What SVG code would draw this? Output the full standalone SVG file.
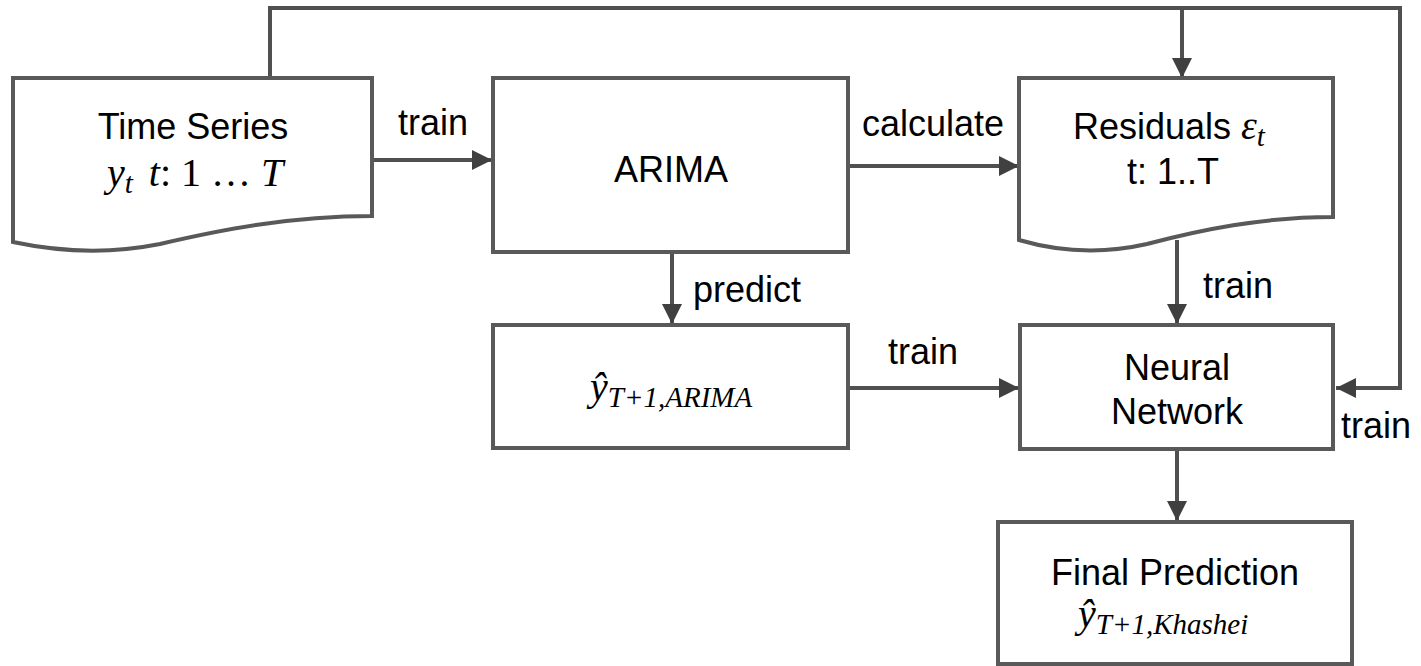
<svg xmlns="http://www.w3.org/2000/svg" width="1421" height="666" viewBox="0 0 1421 666">
<style>
.box{fill:#fff;stroke:#595959;stroke-width:4}
.ln{fill:none;stroke:#505050;stroke-width:4}
.t{font-family:"Liberation Sans",Arial,sans-serif;font-size:36px;fill:#000}
.m{font-family:"Liberation Serif","DejaVu Serif",serif;font-style:italic;font-size:40px;fill:#000}
.s{font-size:29px}
</style>
<defs>
<marker id="ah" viewBox="0 0 10 10" refX="10" refY="5" markerWidth="5" markerHeight="5" markerUnits="strokeWidth" orient="auto">
<path d="M0,0 L10,5 L0,10 z" fill="#404040"/>
</marker>
</defs>
<g id="connectors">
<path class="ln" d="M270,78 V8 H1400 V388 H1336" marker-end="url(#ah)"/>
<path class="ln" d="M1182,8 V78" marker-end="url(#ah)"/>
<path class="ln" d="M372,160 H492" marker-end="url(#ah)"/>
<path class="ln" d="M848,166 H1019" marker-end="url(#ah)"/>
<path class="ln" d="M672,252 V324" marker-end="url(#ah)"/>
<path class="ln" d="M1177,240 V324" marker-end="url(#ah)"/>
<path class="ln" d="M848,388 H1019" marker-end="url(#ah)"/>
<path class="ln" d="M1177,450 V521" marker-end="url(#ah)"/>
<text class="t" x="433" y="135" text-anchor="middle">train</text>
<text class="t" x="933" y="136" text-anchor="middle">calculate</text>
<text class="t" x="693" y="302">predict</text>
<text class="t" x="1203" y="298">train</text>
<text class="t" x="923" y="364" text-anchor="middle">train</text>
<text class="t" x="1341" y="438">train</text>
</g>
<g id="time-series">
<path class="box" d="M13,78 H372 V216 C290,216 220,230 160,244 C110,254 60,252 13,242 Z"/>
<text class="t" x="193" y="139" text-anchor="middle">Time Series</text>
<text class="m" x="107" y="186">y<tspan class="s" dy="7">t</tspan><tspan dy="-7" dx="16">t</tspan><tspan font-style="normal">: 1 … </tspan>T</text>
</g>
<g id="arima">
<rect class="box" x="493" y="78" width="355" height="174"/>
<text class="t" x="671" y="182" text-anchor="middle">ARIMA</text>
</g>
<g id="residuals">
<path class="box" d="M1019,78 H1333 V217 C1262,217 1200,230 1147,244 C1103,254 1060,252 1019,240 Z"/>
<text class="t" x="1073" y="139">Residuals <tspan class="m">ε<tspan class="s" dy="7">t</tspan></tspan></text>
<text class="t" x="1173" y="184" text-anchor="middle">t: 1..T</text>
</g>
<g id="arima-prediction">
<rect class="box" x="493" y="325" width="355" height="123"/>
<text class="m" x="590" y="400">ŷ<tspan class="s" dy="7">T+1,ARIMA</tspan></text>
</g>
<g id="neural-network">
<rect class="box" x="1020" y="325" width="313" height="124"/>
<text class="t" x="1177" y="380" text-anchor="middle">Neural</text>
<text class="t" x="1177" y="424" text-anchor="middle">Network</text>
</g>
<g id="final-prediction">
<rect class="box" x="998" y="522" width="354" height="142"/>
<text class="t" x="1175" y="585" text-anchor="middle">Final Prediction</text>
<text class="m" x="1078" y="627">ŷ<tspan class="s" dy="7">T+1,Khashei</tspan></text>
</g>
</svg>
